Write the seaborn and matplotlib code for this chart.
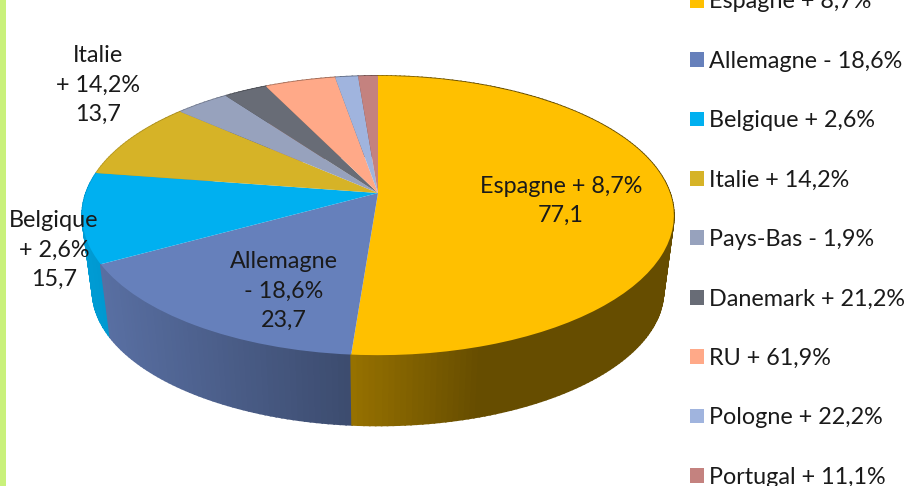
import numpy as np
import matplotlib
matplotlib.use("Agg")
import matplotlib.pyplot as plt
from matplotlib.transforms import Transform
import seaborn as sns

pays = ["Espagne", "Allemagne", "Belgique", "Italie", "Pays-Bas", "Danemark", "RU", "Pologne", "Portugal"]
evolution = ["+ 8,7%", "- 18,6%", "+ 2,6%", "+ 14,2%", "- 1,9%", "+ 21,2%", "+ 61,9%", "+ 22,2%", "+ 11,1%"]
valeurs = [77.1, 23.7, 15.7, 13.7, 5.2, 4.2, 6.8, 2.2, 1.9]
couleurs = ["#FFC000", "#6680BB", "#00B0F0", "#D6B327", "#97A2BD", "#686C76", "#FFA988", "#A0B4DE", "#C4827F"]

# geometrie du camembert en pixels (perspective)
CX, CY = 378, 193
SX, SY = 292, 136
K = 0.1613
DEPTH = 76
SHRINK = 0.035


def project(x, y, t=0.0):
    # disque unite -> ecran, t = 0 dessus, t = 1 dessous
    den = 1 + K * y
    sc = 1 - SHRINK * t
    return CX + sc * SX * x / den, CY + DEPTH * t - sc * SY * y / den


class Perspective(Transform):
    input_dims = output_dims = 2
    is_affine = False

    def transform_non_affine(self, values):
        values = np.asarray(values)
        px, py = project(values[:, 0], values[:, 1])
        return np.column_stack([px, py])


def assombrir(x):
    return np.interp(x, [90, 352, 480], [0.88, 0.59, 0.40])


sns.set_theme(style="white")
plt.rcParams["font.family"] = ["Lato", "DejaVu Sans"]
palette = sns.color_palette(couleurs)
TXT = "#1a1a1a"
FS = 16.8
LS = 1.5

fig, ax = plt.subplots(figsize=(9.05, 4.86), dpi=100)
fig.subplots_adjust(0, 0, 1, 1)

wedges, _ = ax.pie(valeurs, colors=palette, startangle=90, counterclock=False, radius=1,
                   wedgeprops={"linewidth": 0, "edgecolor": "none"})
ax.set_aspect("auto")

# paroi laterale
bandes = []
for w, c in zip(wedges, palette):
    a = np.radians(np.linspace(w.theta1, w.theta2, max(2, int(w.theta2 - w.theta1))))
    for a0, a1 in zip(a[:-1], a[1:]):
        bandes.append((np.sin(a0), a0, a1, c))
bandes.sort(key=lambda b: -b[0])
for _, a0, a1, c in bandes:
    xs, ys = np.cos([a0, a1]), np.sin([a0, a1])
    x_top, y_top = project(xs, ys, 0)
    x_bot, y_bot = project(xs, ys, 1)
    f = assombrir(x_top.mean())
    col = tuple(v * f for v in c)
    ax.fill([x_top[0], x_top[1], x_bot[1], x_bot[0]], [y_top[0], y_top[1], y_bot[1], y_bot[0]],
            facecolor=col, edgecolor=col, lw=1.2, zorder=1)

# dessus
persp = Perspective()
for w in wedges:
    w.set_transform(persp + ax.transData)
    w.set_zorder(2)

ax.axvspan(0, 6, color="#C9F17B", lw=0, zorder=3)


def fmt(v):
    return f"{v:.1f}".replace(".", ",")


ax.text(561, 201, f"{pays[0]} {evolution[0]}\n{fmt(valeurs[0])}", ha="center", va="center",
        fontsize=FS, color=TXT, linespacing=LS, zorder=4)
ax.text(284, 291, f"{pays[1]}\n{evolution[1]}\n{fmt(valeurs[1])}", ha="center", va="center",
        fontsize=FS, color=TXT, linespacing=LS, zorder=4)
ax.text(54, 250, f"{pays[2]}\n{evolution[2]}\n{fmt(valeurs[2])}", ha="center", va="center",
        fontsize=FS, color=TXT, linespacing=LS, zorder=4)
ax.text(98, 85, f"{pays[3]}\n{evolution[3]}\n{fmt(valeurs[3])}", ha="center", va="center",
        fontsize=FS, color=TXT, linespacing=LS, zorder=4)

ax.legend(wedges, [f"{p} {e}" for p, e in zip(pays, evolution)],
          loc="upper left", bbox_to_anchor=(690, -8.5), bbox_transform=ax.transData,
          frameon=False, borderpad=0, borderaxespad=0, fontsize=FS, labelcolor=TXT,
          handlelength=0.6, handleheight=0.6, handletextpad=0.2, labelspacing=1.645)

ax.set_xlim(0, 905)
ax.set_ylim(486, 0)
ax.axis("off")

fig.savefig("out.png", dpi=100)
